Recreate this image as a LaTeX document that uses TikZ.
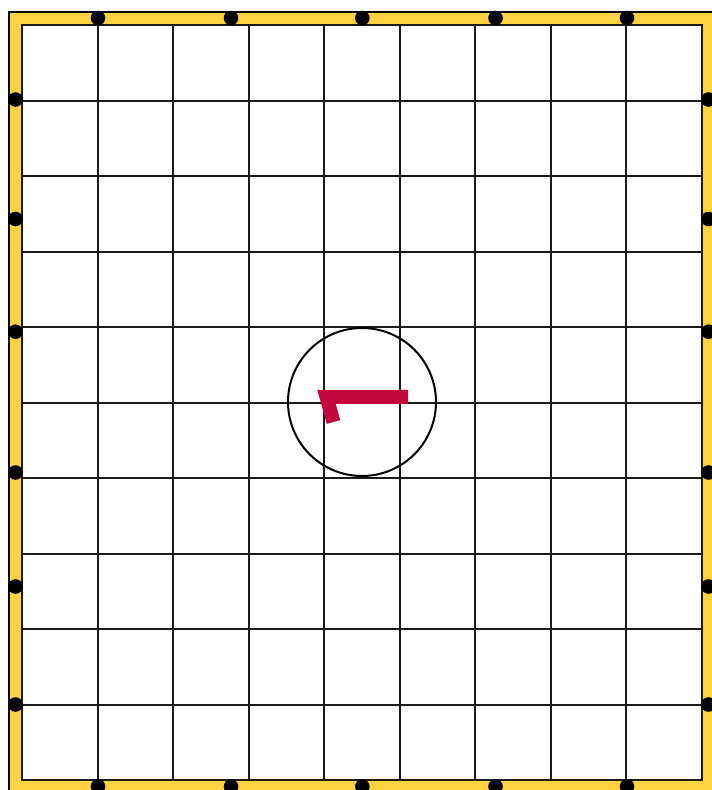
\documentclass[tikz,border=0pt]{standalone}
\usetikzlibrary{calc}
\definecolor{bandyellow}{HTML}{FFD23F}
\definecolor{markred}{HTML}{C4073A}
\definecolor{gridline}{HTML}{1A1A1A}
\tikzset{
  frameband/.style={fill=bandyellow, draw=black, line width=2pt},
  gridrule/.style={draw=gridline, line width=2pt},
  pin/.style={fill=black},
  ring/.style={draw=black, line width=2pt},
  redmark/.style={draw=markred, line width=14pt, line join=miter, line cap=butt}
}
\begin{document}
\begin{tikzpicture}[x=1pt,y=-1pt]
\useasboundingbox (0,0) rectangle (712,790);
\begin{scope}
\clip (0,0) rectangle (712,790);
% outer frame band
\path[frameband] (9,11.5) rectangle (715,793.5);
% inner board
\fill[white] (22,25) rectangle (702,780);
% grid
\foreach \i in {0,...,9} {
  \draw[gridrule] ({22+\i*680/9},25) -- ({22+\i*680/9},780);
}
\foreach \j in {0,...,10} {
  \draw[gridrule] (22,{25+\j*75.5}) -- (702,{25+\j*75.5});
}
\draw[gridrule] (22,25) rectangle (702,780);
% dots top and bottom
\foreach \x in {98,231,362.3,495.5,627} {
  \fill[pin] (\x,18) circle (7.3);
  \fill[pin] (\x,786.5) circle (7.3);
}
% dots left and right
\foreach \y in {99.5,219,331.7,472.5,586.5,704.5} {
  \fill[pin] (15.5,\y) circle (7.3);
  \fill[pin] (708.5,\y) circle (7.3);
}
% circle
\draw[ring] (362,402) circle (74);
% red mark
\draw[redmark] (408,396.8) -- (326.5,396.8) -- (333.5,422);
\end{scope}
\end{tikzpicture}
\end{document}
